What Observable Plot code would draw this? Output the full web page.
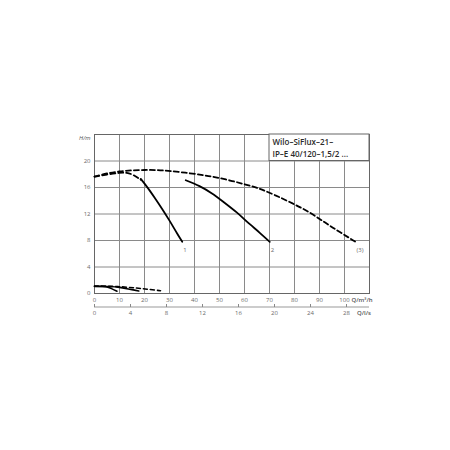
<!DOCTYPE html>
<html><head><meta charset="utf-8">
<script src="https://cdn.jsdelivr.net/npm/d3@7"></script>
<script src="https://cdn.jsdelivr.net/npm/@observablehq/plot@0.6"></script>
<style>body{margin:0;background:#fff}</style>
</head><body><div id="chart"></div>
<script>
const title = "Wilo–SiFlux–21–\nIP–E 40/120–1,5/2 ...";
const qTicks = [0,10,20,30,40,50,60,70,80,90,100];
const hTicks = [0,4,8,12,16,20];
const lsTicks = [0,4,8,12,16,20,24,28];
// curve 1 (min speed): dashed lead-in then solid
const c1dashQ = [0,5,10,13,15.5,18.5];
const c1dashH = [17.75,18.1,18.35,18.4,18.05,17.3];
const c1Q = [18.5,21,24,27,30,33,35.1];
const c1H = [17.3,16.1,14.5,12.8,11.0,9.1,7.8];
// curve 2
const c2Q = [36.5,42,47,52,57,62,66,70.1];
const c2H = [17.1,16.2,15.1,13.7,12.2,10.5,9.2,7.8];
// curve 3 (max, dashed)
const c3Q = [0,5,10,15,20,25,30,38.4,45.7,52.4,60,65.7,72,79,86,92.4,98,104.4];
const c3H = [17.65,18.15,18.45,18.6,18.65,18.65,18.5,18.15,17.75,17.25,16.5,15.9,14.9,13.65,12.3,10.65,9.3,7.8];
// small lower curves
const aQ = [0,3,5,7,9];
const aH = [1.05,1.07,1.0,0.7,0.35];
const bQ = [0,6,10,14,17.7];
const bH = [1.1,1.05,0.92,0.65,0.38];
const cQ = [0,6,11,16,21,26.4];
const cH = [1.12,1.1,1.0,0.85,0.65,0.42];
const endLabels = [{q:35.1,h:7.8,t:"1"},{q:70.1,h:7.8,t:"2"},{q:104.4,h:7.8,t:"(3)"}];

const pts = (Q,H) => Q.map((q,i)=>({q, h:H[i]}));
const tickSym = {draw(ctx, size){ ctx.moveTo(0,-3); ctx.lineTo(0,0); }};
const grid = "#8a8a8a", txt = "#6a6a6a";

const chart = Plot.plot({
  width: 450, height: 450,
  marginLeft: 94, marginRight: 81, marginTop: 134, marginBottom: 157,
  x: {domain:[0,110], axis: null},
  y: {domain:[0,24], axis: null},
  style: {fontFamily: "'Open Sans', sans-serif", background: "#fff"},
  marks: [
    Plot.ruleX(qTicks.slice(1), {stroke: grid, strokeWidth: 1}),
    Plot.ruleY(hTicks.slice(1), {stroke: grid, strokeWidth: 1}),
    Plot.frame({stroke: "#666", strokeWidth: 1}),
    // title box
    Plot.rect([0], {x1: 70, x2: 110, y1: 20, y2: 24, fill: "#fff", stroke: "#666", strokeWidth: 1}),
    Plot.text([title], {x: 70, y: 24, text: d=>d, textAnchor: "start", lineAnchor: "top", dx: 3, dy: 2.5, fontSize: 8, fontWeight: 600, fill: "#2a2a2a", lineHeight: 1.45}),
    // curves
    Plot.line(pts(c3Q,c3H), {x:"q", y:"h", curve:"basis", stroke:"#000", strokeWidth: 1.8, strokeDasharray:"5,3"}),
    Plot.line(pts(c1dashQ,c1dashH), {x:"q", y:"h", curve:"basis", stroke:"#000", strokeWidth: 1.8, strokeDasharray:"5,3", dy: 0.8}),
    Plot.line(pts(c1Q,c1H), {x:"q", y:"h", curve:"catmull-rom", stroke:"#000", strokeWidth: 1.8}),
    Plot.line(pts(c2Q,c2H), {x:"q", y:"h", curve:"catmull-rom", stroke:"#000", strokeWidth: 1.8}),
    Plot.line(pts(aQ,aH), {x:"q", y:"h", curve:"catmull-rom", stroke:"#000", strokeWidth: 1.6}),
    Plot.line(pts(bQ,bH), {x:"q", y:"h", curve:"catmull-rom", stroke:"#000", strokeWidth: 1.6}),
    Plot.line(pts(cQ,cH), {x:"q", y:"h", curve:"catmull-rom", stroke:"#000", strokeWidth: 1.6, strokeDasharray:"4,3"}),
    Plot.text(endLabels, {x:"q", y:"h", text:"t", dy: 6, dx: 1, fontSize: 6, fill: txt, textAnchor: "start", lineAnchor: "top"}),
    // axes labels
    Plot.text(qTicks, {x: d=>d, y: ()=>0, text: d=>String(d), dy: 7, fontSize: 6, fill: txt, lineAnchor: "middle"}),
    Plot.text(hTicks, {x: ()=>0, y: d=>d, text: d=>String(d), dx: -4, fontSize: 6, fill: txt, textAnchor: "end"}),
    Plot.text(["H/m"], {x: ()=>0, y: ()=>24, text: d=>d, dx: -4, dy: 4, fontSize: 6, fontStyle: "italic", fill: "#555", textAnchor: "end"}),
    Plot.text(["Q/m³/h"], {x: ()=>102.8, y: ()=>0, text: d=>d, dy: 7, fontSize: 6, fontWeight: 600, fill: "#555", textAnchor: "start"}),
    // second axis in l/s
    Plot.ruleY([0], {dy: 13.5, stroke: "#999", strokeWidth: 1}),
    Plot.dot(lsTicks, {x: d=>d*3.6, y: ()=>0, dy: 13.5, symbol: tickSym, r: 2, stroke: "#888", strokeWidth: 1}),
    Plot.text(lsTicks, {x: d=>d*3.6, y: ()=>0, text: d=>String(d), dy: 20, fontSize: 6, fill: txt}),
    Plot.text(["Q/l/s"], {x: ()=>105, y: ()=>0, text: d=>d, dy: 20, fontSize: 6, fontWeight: 600, fill: "#555", textAnchor: "start"})
  ]
});
document.getElementById("chart").appendChild(chart);
</script>
</body></html>
